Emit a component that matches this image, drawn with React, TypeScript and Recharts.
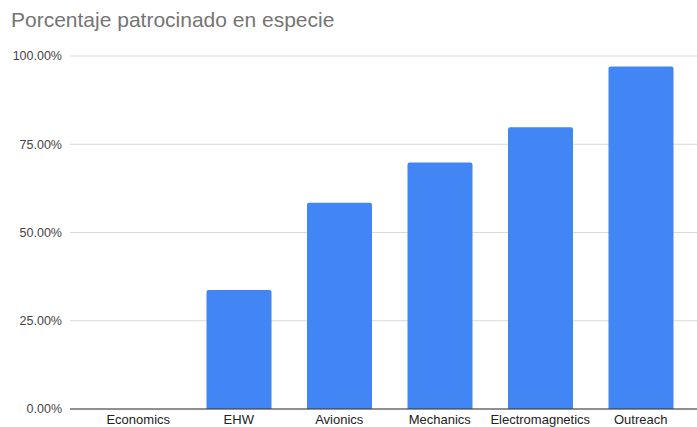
import { Bar, BarChart, CartesianGrid, XAxis, YAxis } from "recharts";

const categories = ["Economics", "EHW", "Avionics", "Mechanics", "Electromagnetics", "Outreach"];
const porcentaje = [0, 0.337, 0.584, 0.698, 0.798, 0.97];
const yTicks = [0, 0.25, 0.5, 0.75, 1];

const data = categories.map((name, i) => ({ name, value: porcentaje[i] }));

const fmt = (v: number) => (v * 100).toFixed(2) + "%";

export default function App() {
	return (
		<div style={{ position: "absolute", left: 0, top: 0, width: 697, height: 427, background: "#fff", fontFamily: "'Liberation Sans', Arial, sans-serif" }}>
			<div style={{ position: "absolute", left: 11, top: 8, fontSize: 21, color: "#757575", whiteSpace: "nowrap" }}>
				Porcentaje patrocinado en especie
			</div>
			<BarChart width={697} height={427} data={data} margin={{ top: 56, right: 0, bottom: 0, left: 0 }}>
				<CartesianGrid vertical={false} stroke="#d9d9d9" />
				<XAxis
					dataKey="name"
					height={18}
					tickLine={false}
					tickSize={4}
					axisLine={{ stroke: "#333" }}
					padding={{ left: 18, right: 6 }}
					tick={{ fill: "#222", fontSize: 13 }}
					interval={0}
				/>
				<YAxis
					width={70}
					domain={[0, 1]}
					ticks={yTicks}
					tickFormatter={fmt}
					axisLine={false}
					tickLine={false}
					tick={{ fill: "#444", fontSize: 12.5 }}
				/>
				<Bar dataKey="value" fill="#4285F4" barSize={65} radius={[2, 2, 0, 0]} isAnimationActive={false} />
			</BarChart>
		</div>
	);
}
